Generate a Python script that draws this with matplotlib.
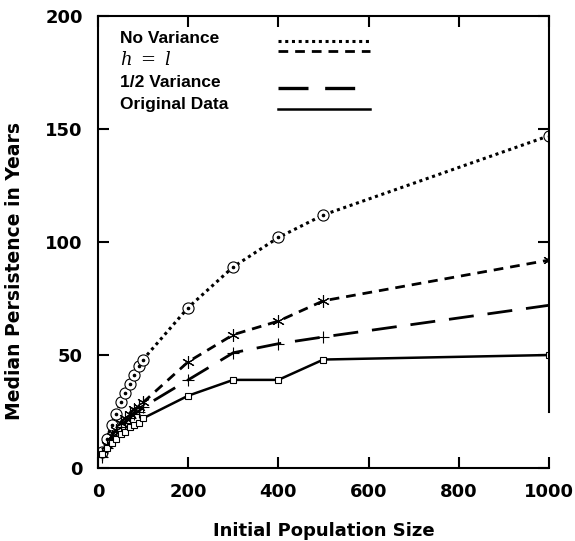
import matplotlib
matplotlib.use("Agg")
import matplotlib.pyplot as plt

# data
pop = [10, 20, 30, 40, 50, 60, 70, 80, 90, 100, 200, 300, 400, 500, 1000]
no_var = [7, 13, 19, 24, 29, 33, 37, 41, 45, 48, 71, 89, 102, 112, 147]
h_eq_l = [6, 10, 14, 17, 20, 22, 24, 26, 27, 29, 47, 59, 65, 74, 92]
half_var = [5, 9, 13, 16, 18, 20, 22, 24, 25, 27, 39, 51, 55, 58, 72]
original = [6, 9, 11, 13, 15, 16, 18, 19, 20, 22, 32, 39, 39, 48, 50]

legend_labels = ["No Variance", r"$h\ =\ l$", "1/2 Variance", "Original Data"]
x_ticks = [0, 200, 400, 600, 800, 1000]
y_ticks = [0, 50, 100, 150, 200]

plt.rcParams.update({
    "font.family": "DejaVu Sans",
    "mathtext.fontset": "dejavuserif",
})

fig = plt.figure(figsize=(5.75, 5.41), dpi=100)
ax = fig.add_axes([0.1704, 0.1349, 0.7843, 0.8355])

ink = "black"
ax.plot(pop, no_var, color=ink, linestyle=(0, (1, 1.2)), linewidth=2.2)
ax.plot(pop, no_var, linestyle="none", marker="o", markersize=8,
        markerfacecolor="white", markeredgecolor=ink, markeredgewidth=0.8)
ax.plot(pop, no_var, linestyle="none", marker="o", markersize=1.6, color=ink)

ax.plot(pop, h_eq_l, color=ink, linestyle=(0, (3.5, 2.5)), linewidth=2.0,
        marker=(6, 2, 0), markersize=9, markeredgewidth=0.8)
ax.plot(pop, half_var, color=ink, linestyle=(0, (9, 5)), linewidth=2.0,
        marker="+", markersize=9, markeredgewidth=0.8)
ax.plot(pop, original, color=ink, linestyle="-", linewidth=1.8,
        marker="s", markersize=5, markerfacecolor="white",
        markeredgewidth=0.8)

ax.set_xlim(0, 1000)
ax.set_ylim(0, 200)
ax.set_xticks(x_ticks)
ax.set_yticks(y_ticks)
ax.tick_params(direction="in", length=8, width=1.5, top=True, right=True,
               labelsize=13, pad=11)
for lab in ax.get_xticklabels() + ax.get_yticklabels():
    lab.set_fontweight("bold")
for sp in ax.spines.values():
    sp.set_linewidth(1.5)
ax.spines["right"].set_bounds(25, 200)

ax.set_xlabel("Initial Population Size", fontweight="bold", fontsize=13,
              labelpad=15)
ax.set_ylabel("Median Persistence in Years", fontweight="bold", fontsize=13.5)
ax.yaxis.set_label_coords(-0.163, 0.436)

# hand-made legend: labels on the left, line samples on the right
text_y = [0.951, 0.903, 0.854, 0.805]
sample_y = [0.945, 0.923, 0.841, 0.794]
styles = [((0, (1, 1.2)), 2.2), ((0, (3.5, 2.5)), 2.0),
          ((0, (9, 5)), 2.4), ("-", 1.8)]
for i, lab in enumerate(legend_labels):
    if lab.startswith("$"):
        ax.text(0.049, text_y[i], lab, transform=ax.transAxes, fontsize=13,
                va="center", ha="left")
    else:
        ax.text(0.049, text_y[i], lab, transform=ax.transAxes,
                family="Liberation Sans", fontweight="bold", fontsize=12.5,
                va="center", ha="left")
    ls, lw = styles[i]
    ax.plot([0.399, 0.603], [sample_y[i], sample_y[i]], transform=ax.transAxes,
            color=ink, linestyle=ls, linewidth=lw, clip_on=False)

fig.savefig("out.png", dpi=100)
